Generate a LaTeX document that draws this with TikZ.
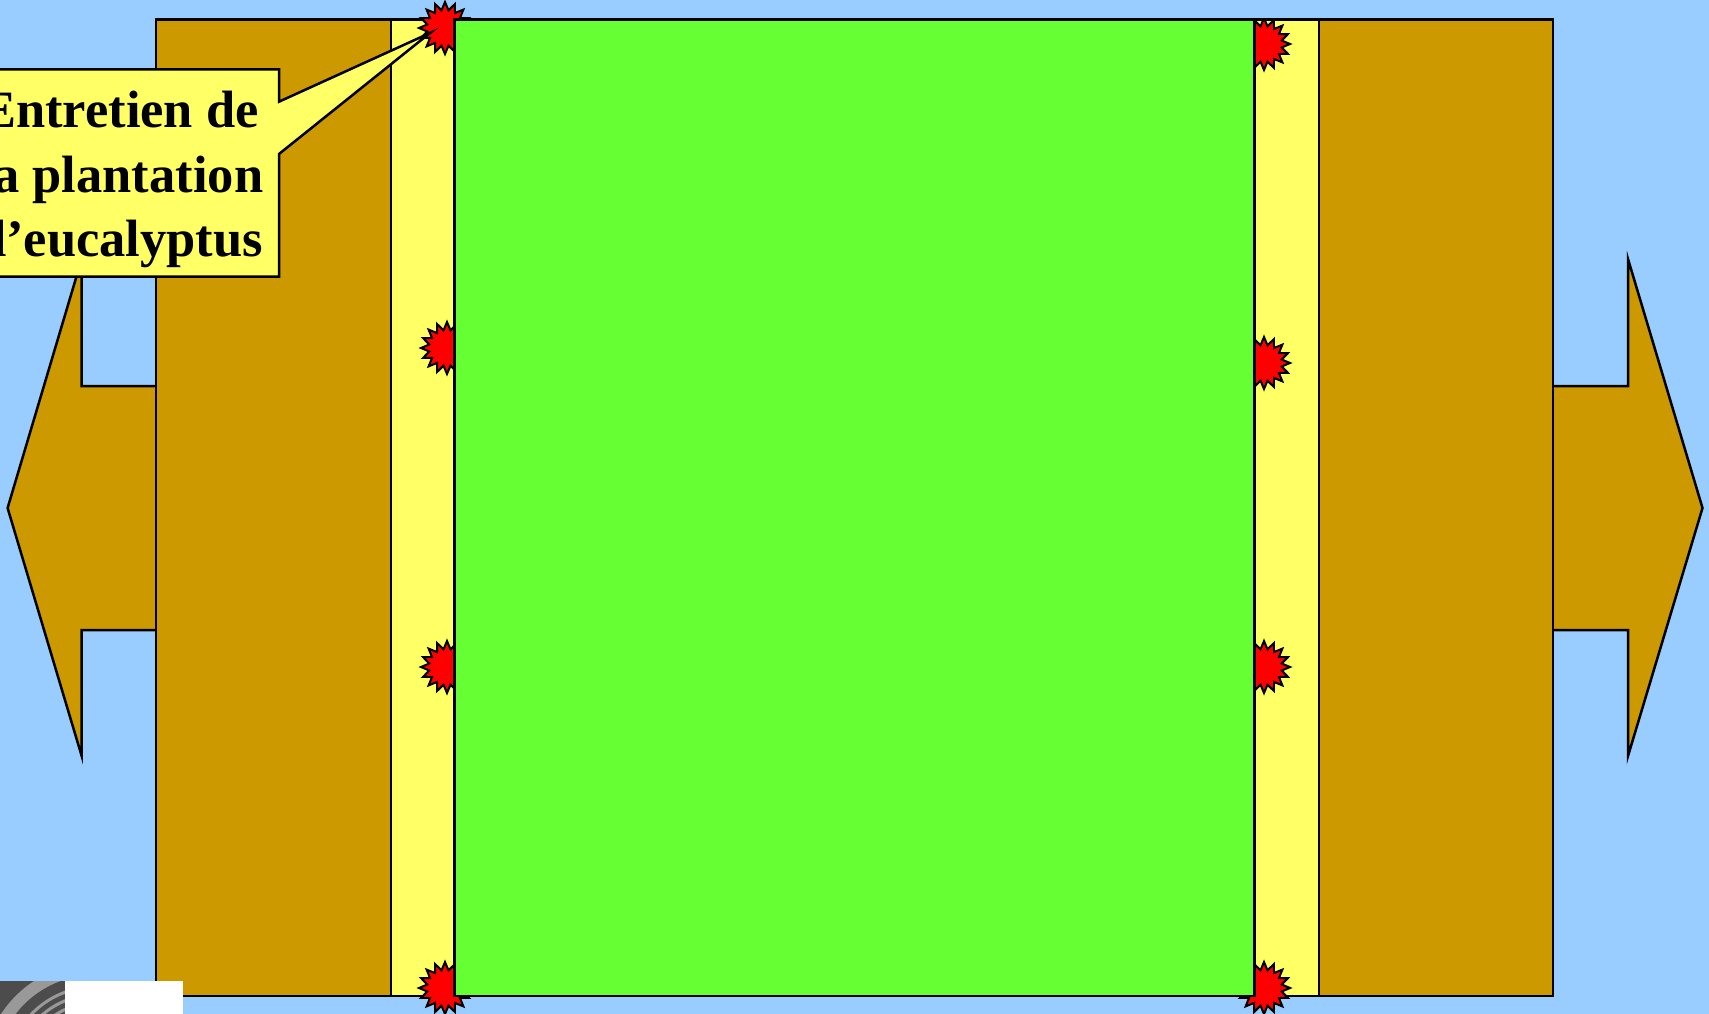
\documentclass[tikz,border=0pt]{standalone}
\usepackage{fontspec}
\setmainfont{Liberation Serif}
\definecolor{sky}{HTML}{99CCFF}
\definecolor{soil}{HTML}{CC9900}
\definecolor{strip}{HTML}{FFFF66}
\definecolor{field}{HTML}{66FF33}
\definecolor{burstred}{HTML}{FF0000}
\begin{document}
\begin{tikzpicture}[x=1pt,y=-1pt,line join=miter,
  outline/.style={draw=black,line width=2.5pt},
  burststy/.style={fill=burstred,draw=black,line width=2pt},
  calltext/.style={anchor=base,inner sep=0pt,font=\bfseries\fontsize{52.5}{64}\selectfont},
  burst/.pic={\path[burststy] (0:26) \foreach \i in {1,...,31}{ -- ({\i*11.25}:{22+4*cos(\i*180)}) } -- cycle;}]
\useasboundingbox (0,0) rectangle (1709,1014);
\fill[sky] (0,0) rectangle (1709,1014);
% double arrow
\draw[outline,fill=soil] (7.6,508) -- (81.7,259) -- (81.7,386) -- (1628,386) -- (1628,259)
  -- (1702.5,508) -- (1628,756) -- (1628,630) -- (81.7,630) -- (81.7,756) -- cycle;
% soil block
\draw[outline,fill=soil] (156,19.6) rectangle (1553,996);
% yellow strips
\draw[outline,fill=strip] (391,19.6) rectangle (1318.8,996);
% bursts
\pic at (445,28) {burst};
\pic at (447,348) {burst};
\pic at (447,667) {burst};
\pic at (445,988) {burst};
\begin{scope}
  \clip (0,19.6) rectangle (1709,1014);
  \pic at (1264,44) {burst};
\end{scope}
\pic at (1264,363) {burst};
\pic at (1264,667) {burst};
\pic at (1264,988) {burst};
% green field
\draw[outline,fill=field] (454.5,19.6) rectangle (1254.5,996);
% callout
\draw[outline,fill=strip] (-40,69.3) -- (279,69.3) -- (279,101.7) -- (430,33) -- (279,154)
  -- (279,276.7) -- (-40,276.7) -- cycle;
\node[calltext] (l1) at (120,128) {Entretien de};
\node[calltext] (l2) at (121,193) {la plantation};
\node[calltext] (l3) at (120,256) {d'eucalyptus};
% logo fragment bottom-left
\fill[black!70] (0,981) rectangle (65,1014);
\begin{scope}
  \clip (0,981) rectangle (65,1014);
  \fill[black!40] (95,1075) circle (112);
  \fill[black!70] (95,1075) circle (100);
  \foreach \r in {72,80,88} {\draw[black!40,line width=3pt] (95,1075) circle (\r);}
\end{scope}
\fill[white] (65,981) rectangle (183,1014);
\end{tikzpicture}
\end{document}
